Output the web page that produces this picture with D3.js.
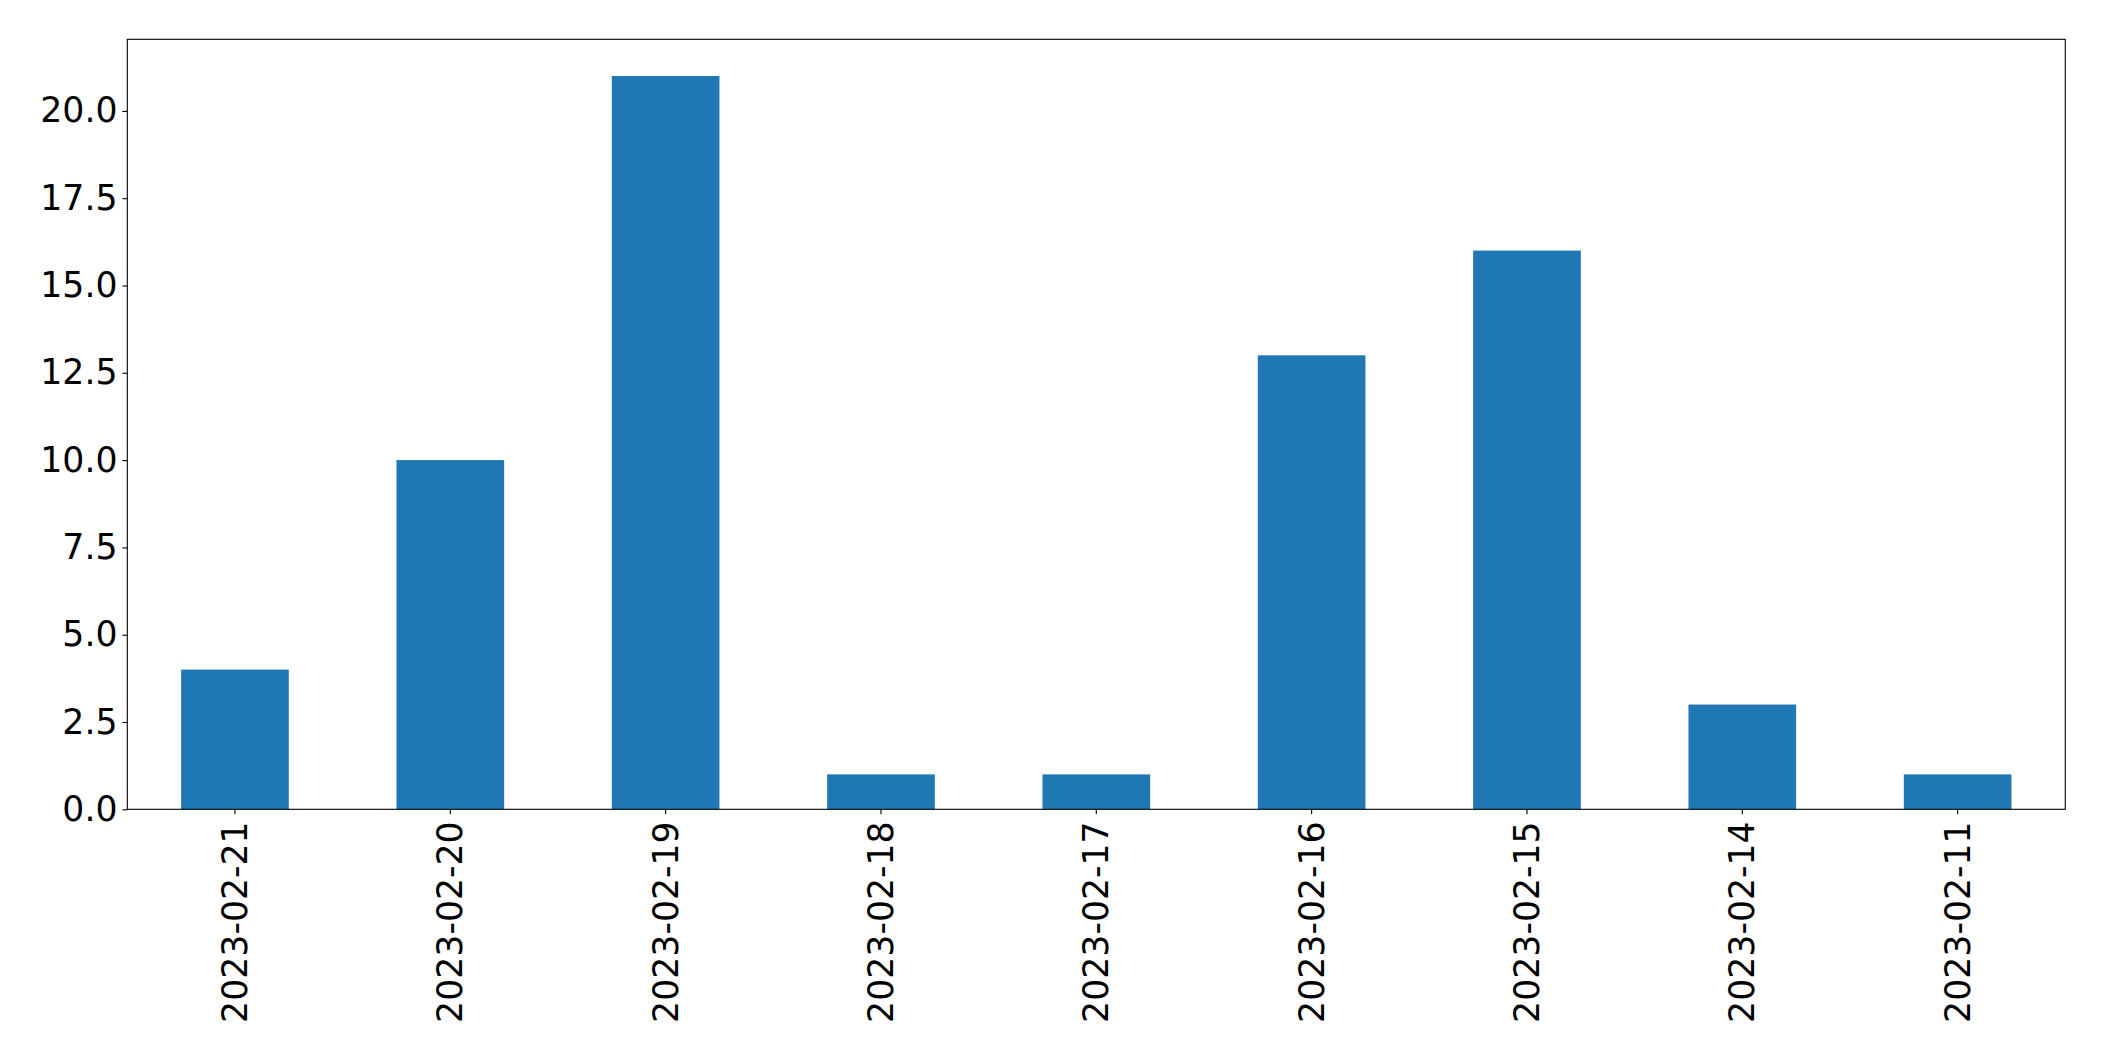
<!DOCTYPE html>
<html>
<head>
<meta charset="utf-8">
<script src="https://cdn.jsdelivr.net/npm/d3@7"></script>
<style>
html,body{margin:0;padding:0;background:#fff;}
svg{display:block;}
text{font-family:"DejaVu Sans",sans-serif;fill:#000;}
</style>
</head>
<body>
<script>
const categories = ["2023-02-21","2023-02-20","2023-02-19","2023-02-18","2023-02-17","2023-02-16","2023-02-15","2023-02-14","2023-02-11"];
const values = [4,10,21,1,1,13,16,3,1];
const yTicks = [0,2.5,5,7.5,10,12.5,15,17.5,20];

const W = 2104, H = 1061;
const plotLeft = 127.3, plotRight = 2065.3, plotTop = 39.3, plotBottom = 809.3;
const fontPx = 34.7;

const svg = d3.select("body").append("svg").attr("width", W).attr("height", H);

const x = d3.scaleBand().domain(categories).range([plotLeft, plotRight]).paddingInner(0.5).paddingOuter(0.25);
const y = d3.scaleLinear().domain([0, d3.max(values) * 1.05]).range([plotBottom, plotTop]);

svg.append("g").selectAll("rect").data(values).join("rect")
  .attr("x", (d, i) => x(categories[i]))
  .attr("width", x.bandwidth())
  .attr("y", d => y(d))
  .attr("height", d => y(0) - y(d))
  .attr("fill", "#1f77b4");

const yAxis = svg.append("g").attr("transform", `translate(${plotLeft},0)`)
  .call(d3.axisLeft(y).tickValues(yTicks).tickFormat(d3.format(".1f")).tickSize(4.9).tickPadding(4.9));
yAxis.select(".domain").remove();
yAxis.selectAll("line").attr("stroke", "#000").attr("stroke-width", 1.1);
yAxis.selectAll("text").style("font-size", fontPx + "px").attr("font-family", "DejaVu Sans");

const xAxis = svg.append("g").attr("transform", `translate(0,${plotBottom})`)
  .call(d3.axisBottom(x).tickSize(4.9).tickPadding(4.9));
xAxis.select(".domain").remove();
xAxis.selectAll("line").attr("stroke", "#000").attr("stroke-width", 1.1);
xAxis.selectAll("text")
  .style("font-size", fontPx + "px")
  .attr("font-family", "DejaVu Sans")
  .attr("text-anchor", "end")
  .attr("transform", "rotate(-90)")
  .attr("x", -12)
  .attr("y", 0)
  .attr("dy", "0.35em");

svg.append("rect")
  .attr("x", plotLeft).attr("y", plotTop)
  .attr("width", plotRight - plotLeft).attr("height", plotBottom - plotTop)
  .attr("fill", "none").attr("stroke", "#000").attr("stroke-width", 1.1);
</script>
</body>
</html>
